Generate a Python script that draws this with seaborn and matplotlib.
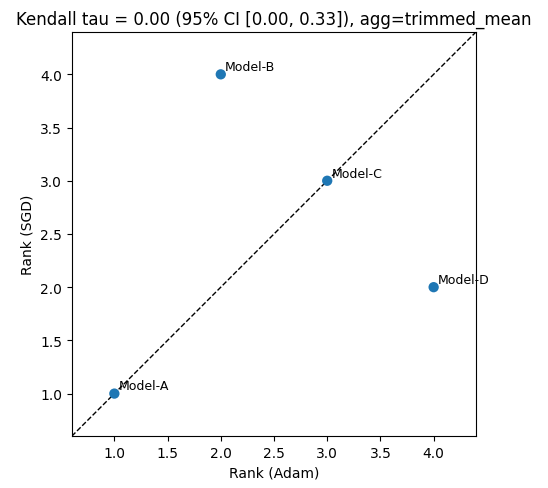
import numpy as np
import pandas as pd
import matplotlib
matplotlib.use("Agg")
import matplotlib.pyplot as plt
import seaborn as sns

# data
models = ["Model-A", "Model-B", "Model-C", "Model-D"]
rank_adam = [1.0, 2.0, 3.0, 4.0]
rank_sgd = [1.0, 4.0, 3.0, 2.0]
title = "Kendall tau = 0.00 (95% CI [0.00, 0.33]), agg=trimmed_mean"

df = pd.DataFrame({"model": models, "Rank (Adam)": rank_adam, "Rank (SGD)": rank_sgd})

fig = plt.figure(figsize=(5.48, 4.89), dpi=100)
ax = fig.add_axes([0.131, 0.106, 0.738, 0.827])

sns.scatterplot(data=df, x="Rank (Adam)", y="Rank (SGD)", ax=ax, s=55,
                color="#1f77b4", edgecolor="none", zorder=3)

lo, hi = 0.6, 4.4
ax.plot([lo, hi], [lo, hi], "k--", linewidth=1)
ax.set_xlim(lo, hi)
ax.set_ylim(lo, hi)

for _, r in df.iterrows():
    ax.annotate(r["model"], (r["Rank (Adam)"], r["Rank (SGD)"]),
                xytext=(3, 3), textcoords="offset points", fontsize=9)

ax.set_title(title)
fig.savefig("out.png", dpi=100)
